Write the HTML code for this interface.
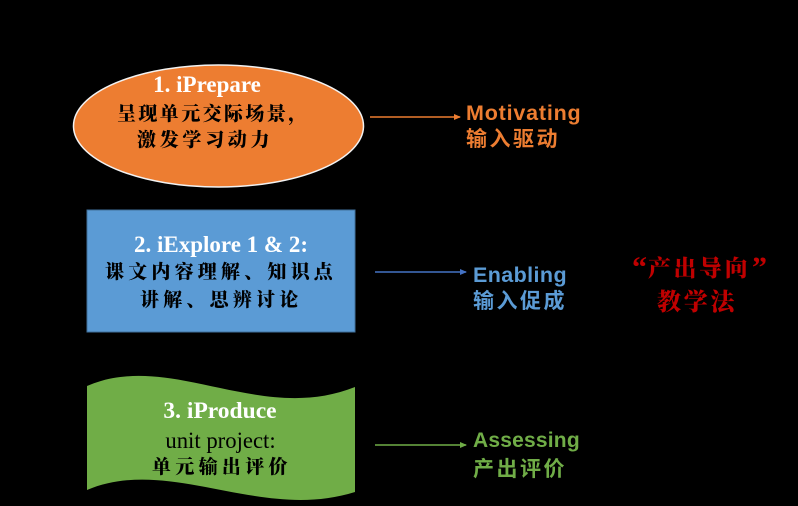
<!DOCTYPE html>
<html><head><meta charset="utf-8"><style>
html,body{margin:0;padding:0;background:#000;}
svg{display:block;}
</style></head><body>
<svg width="798" height="506" viewBox="0 0 798 506" xmlns="http://www.w3.org/2000/svg">
<rect width="798" height="506" fill="#000"/>
<defs>
<marker id="ao" markerWidth="8" markerHeight="8" refX="6" refY="3" orient="auto" markerUnits="userSpaceOnUse"><path d="M0,0 L7,3 L0,6 z" fill="#ED7D31"/></marker>
<marker id="ab" markerWidth="8" markerHeight="8" refX="6" refY="3" orient="auto" markerUnits="userSpaceOnUse"><path d="M0,0 L7,3 L0,6 z" fill="#4472C4"/></marker>
<marker id="ag" markerWidth="8" markerHeight="8" refX="6" refY="3" orient="auto" markerUnits="userSpaceOnUse"><path d="M0,0 L7,3 L0,6 z" fill="#70AD47"/></marker>
</defs>

<!-- ellipse -->
<ellipse cx="218.5" cy="126" rx="145" ry="61" fill="#ED7D31" stroke="#F2F2F2" stroke-width="1.5"/>
<text x="207" y="92" text-anchor="middle" font-family="Liberation Serif, serif" font-weight="bold" font-size="23" fill="#fff">1. iPrepare</text>
<text x="117" y="120" font-family="Noto Serif CJK SC, serif" font-weight="900" font-size="19" letter-spacing="2.4" fill="#000">呈现单元交际场景，</text>
<text x="137" y="146" font-family="Noto Serif CJK SC, serif" font-weight="900" font-size="19" letter-spacing="3.7" fill="#000">激发学习动力</text>

<!-- blue rect -->
<rect x="87" y="210" width="268" height="122" fill="#5B9BD5" stroke="#41719C" stroke-width="1"/>
<text x="221" y="252" text-anchor="middle" font-family="Liberation Serif, serif" font-weight="bold" font-size="23" fill="#fff">2. iExplore 1 &amp; 2:</text>
<text x="105" y="278" font-family="Noto Serif CJK SC, serif" font-weight="900" font-size="19" letter-spacing="4.2" fill="#000">课文内容理解、知识点</text>
<text x="140" y="306" font-family="Noto Serif CJK SC, serif" font-weight="900" font-size="19" letter-spacing="4.2" fill="#000">讲解、思辨讨论</text>

<!-- green wave -->
<path d="M87,386 C170,350 260,425 355,387 L355,492 C260,522 170,455 87,490 Z" fill="#70AD47"/>
<text x="220" y="418" text-anchor="middle" font-family="Liberation Serif, serif" font-weight="bold" font-size="23.5" fill="#fff">3. iProduce</text>
<text x="220.5" y="448" text-anchor="middle" font-family="Liberation Serif, serif" font-size="22.7" fill="#000">unit project:</text>
<text x="152" y="473" font-family="Noto Serif CJK SC, serif" font-weight="900" font-size="19" letter-spacing="4.3" fill="#000">单元输出评价</text>

<!-- arrows -->
<line x1="370" y1="117" x2="460" y2="117" stroke="#ED7D31" stroke-width="1.5" marker-end="url(#ao)"/>
<line x1="375" y1="272" x2="466" y2="272" stroke="#4472C4" stroke-width="1.5" marker-end="url(#ab)"/>
<line x1="375" y1="445" x2="466" y2="445" stroke="#70AD47" stroke-width="1.5" marker-end="url(#ag)"/>

<!-- right labels -->
<text x="466" y="120" font-family="Liberation Sans, sans-serif" font-weight="bold" font-size="21.5" letter-spacing="0.8" fill="#ED7D31">Motivating</text>
<text x="466" y="146" font-family="Noto Sans CJK SC, sans-serif" font-weight="bold" font-size="21" letter-spacing="2.5" fill="#ED7D31">输入驱动</text>

<text x="473" y="282" font-family="Liberation Sans, sans-serif" font-weight="bold" font-size="21.5" letter-spacing="0.4" fill="#5B9BD5">Enabling</text>
<text x="473" y="308" font-family="Noto Sans CJK SC, sans-serif" font-weight="bold" font-size="21" letter-spacing="2.5" fill="#5B9BD5">输入促成</text>

<text x="473" y="447" font-family="Liberation Sans, sans-serif" font-weight="bold" font-size="21" letter-spacing="0.2" fill="#70AD47">Assessing</text>
<text x="473" y="476" font-family="Noto Sans CJK SC, sans-serif" font-weight="bold" font-size="21" letter-spacing="2.5" fill="#70AD47">产出评价</text>

<!-- red -->
<text x="632" y="277" font-family="Liberation Serif, serif" font-weight="bold" font-size="30" fill="#C00000">“</text>
<text x="648" y="276" font-family="Noto Serif CJK SC, serif" font-weight="900" font-size="23" letter-spacing="2.5" fill="#C00000">产出导向</text>
<text x="752" y="277" font-family="Liberation Serif, serif" font-weight="bold" font-size="30" fill="#C00000">”</text>
<text x="657" y="310" font-family="Noto Serif CJK SC, serif" font-weight="900" font-size="24" letter-spacing="2.7" fill="#C00000">教学法</text>
</svg>
</body></html>
